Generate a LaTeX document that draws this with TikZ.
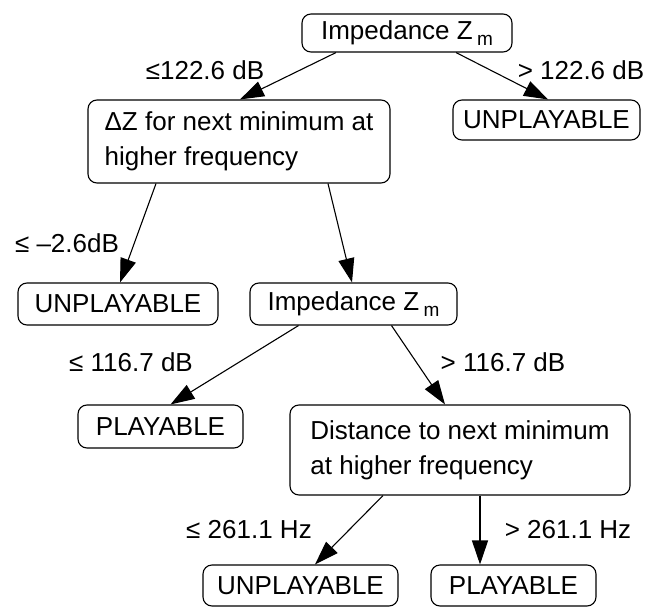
\documentclass[tikz,border=0pt]{standalone}
\usepackage{fontspec}
\setmainfont{Liberation Sans}
\usetikzlibrary{arrows.meta}
\newcommand{\Zm}{Z\,\raisebox{-6pt}{\fontsize{19}{19}\selectfont m}}
\begin{document}
\begin{tikzpicture}[x=1pt,y=-1pt,
  box/.style={draw,line width=1.1pt,rounded corners=9pt,inner sep=0pt,
    font=\fontsize{26}{35}\selectfont},
  lbl/.style={inner sep=0pt,font=\fontsize{26}{35}\selectfont},
  arr/.style={line width=1.1pt,-{Triangle[length=24pt,width=16pt]}}]
\useasboundingbox (0,0) rectangle (659,608);
\node[box,minimum width=210pt,minimum height=38pt] (top) at (407,33) {Impedance \Zm};
\node[box,minimum width=302pt,minimum height=83pt,align=left] (dz) at (239,141.5) {ΔZ for next minimum at\\higher frequency};
\node[box,minimum width=187pt,minimum height=40pt] (u1) at (546.5,120) {UNPLAYABLE};
\node[box,minimum width=200pt,minimum height=42pt] (u2) at (118,304) {UNPLAYABLE};
\node[box,minimum width=207pt,minimum height=42pt] (imp) at (353.5,304) {Impedance \Zm};
\node[box,minimum width=165pt,minimum height=43pt] (p1) at (160.5,426.5) {PLAYABLE};
\node[box,minimum width=340pt,minimum height=90pt,align=left] (dist) at (460,450) {Distance to next minimum\\at higher frequency};
\node[box,minimum width=195pt,minimum height=41pt] (u3) at (300.5,585.5) {UNPLAYABLE};
\node[box,minimum width=165pt,minimum height=41pt] (p2) at (513.5,585.5) {PLAYABLE};
\node[lbl] (l1) at (205,70) {≤122.6 dB};
\node[lbl] (l2) at (581,70) {> 122.6 dB};
\node[lbl] (l3) at (67,243) {≤ –2.6dB};
\node[lbl] (l4) at (131,362) {≤ 116.7 dB};
\node[lbl] (l5) at (503,362) {> 116.7 dB};
\node[lbl] (l6) at (249,530) {≤ 261.1 Hz};
\node[lbl] (l7) at (568,530) {> 261.1 Hz};
\draw[arr] ([xshift=-71pt]top.south) -- ([xshift=1pt]dz.north);
\draw[arr] ([xshift=49pt]top.south) -- ([xshift=1.5pt]u1.north);
\draw[arr] ([xshift=-83pt]dz.south) -- ([xshift=2pt]u2.north);
\draw[arr] ([xshift=89pt]dz.south) -- ([xshift=-1.5pt]imp.north);
\draw[arr] ([xshift=-55pt]imp.south) -- ([xshift=10pt]p1.north);
\draw[arr] ([xshift=38pt]imp.south) -- ([xshift=-15pt]dist.north);
\draw[arr] ([xshift=-77pt]dist.south) -- ([xshift=14.5pt]u3.north);
\draw[arr] ([xshift=20pt]dist.south) -- ([xshift=-33.5pt]p2.north);
\end{tikzpicture}
\end{document}
